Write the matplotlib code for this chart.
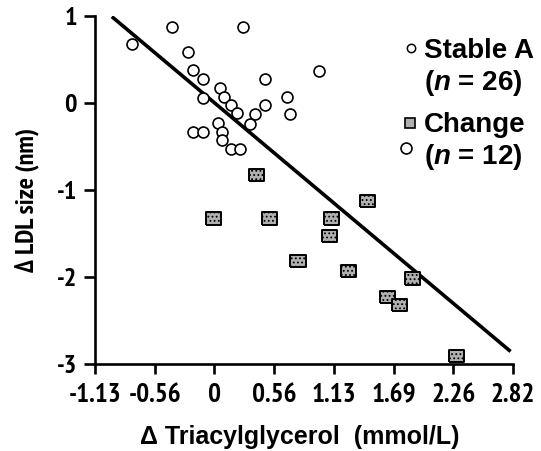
import numpy as np
import matplotlib
matplotlib.use("Agg")
import matplotlib.pyplot as plt

plt.rcParams['mathtext.fontset'] = 'custom'
plt.rcParams['mathtext.it'] = 'Liberation Sans:italic:bold'
plt.rcParams['mathtext.rm'] = 'Liberation Sans:bold'
plt.rcParams['hatch.color'] = '#444444'
plt.rcParams['hatch.linewidth'] = 0.8

# stable A group (open circles)
stable_x = [-0.78, -0.40, 0.27, -0.25, -0.20, -0.11, 0.99, 0.48, 0.05, 0.09,
            -0.11, 0.16, 0.21, 0.48, 0.38, 0.34, 0.69, 0.71, -0.20, -0.11,
            0.03, 0.07, 0.07, 0.16, 0.24, 1.81]
stable_y = [0.68, 0.87, 0.87, 0.58, 0.38, 0.27, 0.37, 0.27, 0.17, 0.07,
            0.06, -0.03, -0.12, -0.03, -0.13, -0.24, 0.07, -0.13, -0.33, -0.33,
            -0.23, -0.33, -0.43, -0.53, -0.53, -0.52]

# change group (grey squares)
change_x = [0.40, -0.01, 0.52, 1.11, 1.45, 1.09, 0.79, 1.27, 1.87, 1.64, 1.75, 2.29]
change_y = [-0.83, -1.33, -1.33, -1.33, -1.13, -1.53, -1.82, -1.93, -2.02, -2.23, -2.32, -2.91]

# regression line
fit_slope = -1.02
fit_intercept = 0.0
fit_x = np.array([-0.97, 2.80])

xtick_vals = [-2, -1, 0, 1, 2, 3, 4, 5]   # steps of 50 mg/dL
mg_to_mmol = 0.5646
xtick_labels = ["-1.13", "-0.56", "0", "0.56", "1.13", "1.69", "2.26", "2.82"]
ytick_vals = [-3, -2, -1, 0, 1]
ytick_labels = ["-3", "-2", "-1", "0", "1"]

narrow = ['PT Sans Narrow', 'Liberation Sans', 'DejaVu Sans']
wide = ['Liberation Sans', 'DejaVu Sans']

W, H = 541, 451
fig = plt.figure(figsize=(W / 100, H / 100), dpi=100)
ax = fig.add_axes([95 / W, 1 - 364 / H, 418 / W, 348.3 / H])

xt = np.array(xtick_vals) * mg_to_mmol
ax.set_xlim(xt[0], xt[-1])
ax.set_ylim(-3, 1)

ax.plot(fit_x, fit_intercept + fit_slope * fit_x, color='black', lw=2.6,
        solid_capstyle='butt', zorder=2)

ax.scatter(stable_x, stable_y, s=62, marker='o', facecolor='white',
           edgecolor='black', linewidth=1.2, clip_on=False, zorder=3)

rect = [(-1, -0.82), (1, -0.82), (1, 0.82), (-1, 0.82), (-1, -0.82)]
ax.scatter(change_x, change_y, s=120, marker=rect, facecolor='#b0b0b0',
           edgecolor='black', linewidth=1.4, hatch='....', clip_on=False, zorder=3)

for side in ['top', 'right']:
    ax.spines[side].set_visible(False)
for side in ['left', 'bottom']:
    ax.spines[side].set_linewidth(1.9)

ax.set_xticks(xt)
ax.set_xticklabels(xtick_labels)
ax.set_yticks(ytick_vals)
ax.set_yticklabels(ytick_labels)
ax.tick_params(axis='x', length=7, width=1.9, pad=7)
ax.tick_params(axis='y', length=8, width=1.9, pad=5)
for lab in ax.get_xticklabels():
    lab.set_family(narrow)
    lab.set_fontsize(19.5)
    lab.set_fontweight('bold')
for lab in ax.get_yticklabels():
    lab.set_family(narrow)
    lab.set_fontsize(19)
    lab.set_fontweight('bold')

fig.text(300 / W, 1 - 437 / H, "\u0394 Triacylglycerol  (mmol/L)", ha='center', va='center',
         family=wide, fontsize=18, fontweight='bold')
fig.text(27 / W, 1 - 200 / H, "\u0394 LDL size (nm)", ha='center', va='center',
         rotation=90, family=narrow, fontsize=19, fontweight='bold')

# legend drawn by hand
fig.add_artist(plt.Line2D([411 / W], [1 - 48 / H], transform=fig.transFigure, marker='o',
                          ms=6, mfc='white', mec='black', mew=1.1, ls='none'))
fig.add_artist(plt.Line2D([410 / W], [1 - 123 / H], transform=fig.transFigure, marker='s',
                          ms=7, mfc='#b0b0b0', mec='black', mew=1.2, ls='none'))
leg_kw = dict(ha='left', va='center', family=wide, fontsize=20, fontweight='bold')
fig.text(424 / W, 1 - 51 / H, "Stable A", **leg_kw)
fig.text(424 / W, 1 - 83 / H, r"($n$ = 26)", **leg_kw)
fig.text(424 / W, 1 - 125 / H, "Change", **leg_kw)
fig.text(424 / W, 1 - 157 / H, r"($n$ = 12)", **leg_kw)

fig.savefig("out.png", dpi=100)
